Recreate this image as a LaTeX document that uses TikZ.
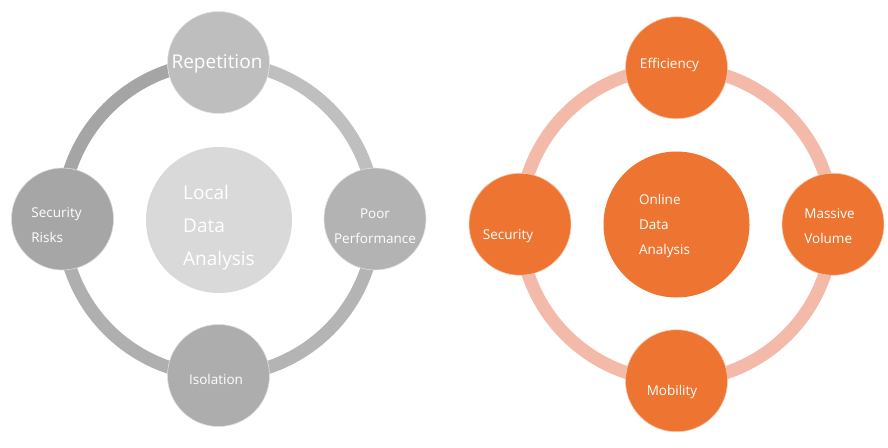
\documentclass[tikz,border=0pt]{standalone}
\usepackage{fontspec}
\setmainfont{Open Sans}
\usepackage{tikz}
\usetikzlibrary{backgrounds}
\definecolor{orng}{HTML}{ED7431}
\definecolor{orngring}{HTML}{F4BAA9}
\definecolor{hubgray}{HTML}{D9D9D9}
\definecolor{repgray}{HTML}{BEBEBE}
\definecolor{riskgray}{HTML}{A6A6A6}
\definecolor{perfgray}{HTML}{B3B3B3}
\definecolor{isogray}{HTML}{ADADAD}
\definecolor{ringtl}{HTML}{A5A5A5}
\definecolor{ringbl}{HTML}{AFAFAF}
\definecolor{ringbr}{HTML}{B4B4B4}
\definecolor{ringtr}{HTML}{BFBFBF}

\begin{document}
\begin{tikzpicture}[x=1pt,y=-1pt,
  bub/.style={circle, minimum size=102pt, inner sep=0pt, draw=white!60!#1, line width=0.6pt, fill=#1},
  hub/.style={circle, minimum size=146pt, inner sep=0pt, fill=#1},
  lbl/.style={text=white, align=left, inner sep=0pt, font=\fontsize{13.5}{25}\selectfont},
  ringseg/.style={line width=13pt, draw=#1}]
\useasboundingbox (0,0) rectangle (888,447);

% left cycle: local data analysis
\node[hub=hubgray, label={[lbl, yshift=-8pt, font=\fontsize{19}{33}\selectfont]center:Local\\Data\\Analysis}] (local) at (219,220) {};
\node[bub=repgray, label={[lbl, xshift=-1.5pt, yshift=-1pt, font=\fontsize{19}{20}\selectfont]center:Repetition}] (rep) at (218.5,62.5) {};
\node[bub=riskgray, label={[lbl, xshift=-6pt, yshift=-6pt]center:Security\\Risks}] (risk) at (62.5,219) {};
\node[bub=perfgray, label={[lbl, align=center, yshift=-7pt]center:Poor\\Performance}] (perf) at (375,219) {};
\node[bub=isogray, label={[lbl, xshift=-2.5pt, yshift=-4pt]center:Isolation}] (iso) at (218.5,375.5) {};
\begin{scope}[on background layer]
\draw[ringseg=ringtl] (rep.center) arc[start angle=-90, end angle=-180, radius=156.5];
\draw[ringseg=ringbl] (risk.center) arc[start angle=-180, end angle=-270, radius=156.5];
\draw[ringseg=ringbr] (iso.center) arc[start angle=90, end angle=0, radius=156.5];
\draw[ringseg=ringtr] (perf.center) arc[start angle=0, end angle=-90, radius=156.5];
\end{scope}

% right cycle: online data analysis
\node[hub=orng, label={[lbl, xshift=-12pt, yshift=-1pt]center:Online\\Data\\Analysis}] (online) at (676.5,224.5) {};
\node[bub=orng, label={[lbl, xshift=-7pt, yshift=3pt]center:Efficiency}] (eff) at (676.5,67.75) {};
\node[bub=orng, label={[lbl, xshift=-12pt, yshift=-12pt]center:Security}] (sec) at (520,224.25) {};
\node[bub=orng, label={[lbl, xshift=-3.5pt, yshift=-1.5pt]center:Massive\\Volume}] (mass) at (833,224.25) {};
\node[bub=orng, label={[lbl, xshift=-4.5pt, yshift=-11pt]center:Mobility}] (mob) at (676.5,380.75) {};
\begin{scope}[on background layer]
\draw[ringseg=orngring] (eff.center) arc[start angle=-90, end angle=-180, radius=156.5];
\draw[ringseg=orngring] (sec.center) arc[start angle=-180, end angle=-270, radius=156.5];
\draw[ringseg=orngring] (mob.center) arc[start angle=90, end angle=0, radius=156.5];
\draw[ringseg=orngring] (mass.center) arc[start angle=0, end angle=-90, radius=156.5];
\end{scope}
\end{tikzpicture}
\end{document}
